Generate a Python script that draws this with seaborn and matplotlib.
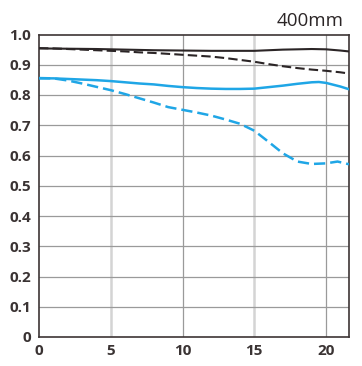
import matplotlib
matplotlib.use("Agg")
import matplotlib.pyplot as plt
import seaborn as sns
import pandas as pd

# ---- data ----
x_black_solid = [0, 2, 4, 6, 8, 10, 12, 14, 15, 16, 17, 18, 19, 20, 21, 21.6]
y_black_solid = [0.954, 0.953, 0.952, 0.950, 0.948, 0.947, 0.946, 0.946, 0.946,
                 0.948, 0.950, 0.951, 0.952, 0.951, 0.947, 0.944]

x_black_dashed = [0, 1, 2, 3, 4, 5, 6, 7, 8, 9, 10, 11, 12, 13, 14, 15, 16, 17,
                  18, 19, 20, 21, 21.6]
y_black_dashed = [0.955, 0.954, 0.952, 0.950, 0.948, 0.946, 0.944, 0.941, 0.939,
                  0.936, 0.933, 0.930, 0.927, 0.922, 0.916, 0.910, 0.902, 0.895,
                  0.889, 0.884, 0.880, 0.875, 0.871]

x_blue_solid = [0, 1, 2, 3, 4, 5, 6, 7, 8, 9, 10, 11, 12, 13, 14, 15, 16, 17, 18,
                19, 19.5, 20, 21, 21.6]
y_blue_solid = [0.855, 0.855, 0.853, 0.851, 0.849, 0.846, 0.842, 0.838, 0.835,
                0.830, 0.826, 0.823, 0.821, 0.820, 0.820, 0.821, 0.826, 0.831,
                0.837, 0.842, 0.843, 0.840, 0.828, 0.819]

x_blue_dashed = [0, 1, 2, 3, 4, 5, 6, 7, 8, 9, 10, 11, 12, 13, 14, 15, 16, 17,
                 18, 19, 20, 20.8, 21.6]
y_blue_dashed = [0.856, 0.855, 0.848, 0.838, 0.827, 0.816, 0.803, 0.789, 0.775,
                 0.760, 0.751, 0.742, 0.732, 0.719, 0.705, 0.682, 0.645, 0.607,
                 0.580, 0.572, 0.574, 0.580, 0.571]

x_ticks = [0, 5, 10, 15, 20]
y_ticks = [0, 0.1, 0.2, 0.3, 0.4, 0.5, 0.6, 0.7, 0.8, 0.9, 1.0]
y_tick_labels = ["0", "0.1", "0.2", "0.3", "0.4", "0.5", "0.6", "0.7", "0.8", "0.9", "1.0"]
title_text = "400mm"

sns.set_theme(style="white")
plt.rcParams['font.family'] = ['Open Sans', 'DejaVu Sans']

fig = plt.figure(figsize=(3.62, 3.66), dpi=100)
ax = fig.add_axes([39/362, 1 - 337/366, (349 - 39)/362, (337 - 34.5)/366])

# grid lines
for v in [5, 15]:
    ax.axvline(v, color="#d4d4d4", lw=1.8, zorder=1)
for v in [10, 20]:
    ax.axvline(v, color="#9a9a9a", lw=0.9, zorder=1)
for v in y_ticks[1:-1]:
    ax.axhline(v, color="#9a9a9a", lw=0.9, zorder=1)

black = "#2b2526"
blue = "#1fa6e6"
dash = (4.5, 2.0)

sns.lineplot(x=x_black_solid, y=y_black_solid, ax=ax, color=black, lw=1.5, zorder=3)
sns.lineplot(x=x_black_dashed, y=y_black_dashed, ax=ax, color=black, lw=1.5,
             zorder=3).lines[-1].set_dashes(dash)
sns.lineplot(x=x_blue_solid, y=y_blue_solid, ax=ax, color=blue, lw=1.8, zorder=3)
sns.lineplot(x=x_blue_dashed, y=y_blue_dashed, ax=ax, color=blue, lw=1.8,
             zorder=3).lines[-1].set_dashes(dash)

ax.set_xlim(0, 21.6)
ax.set_ylim(0, 1.0)
ax.set_xticks(x_ticks)
ax.set_xticklabels([str(t) for t in x_ticks])
ax.set_yticks(y_ticks)
ax.set_yticklabels(y_tick_labels)
ax.tick_params(axis="x", length=0, labelsize=11, colors="#3a3333", pad=5)
ax.tick_params(axis="y", length=0, labelsize=11, colors="#3a3333", pad=5.5)
for lab in ax.get_xticklabels() + ax.get_yticklabels():
    lab.set_fontweight("bold")
ax.set_xlabel("")
ax.set_ylabel("")
for s in ax.spines.values():
    s.set_visible(True)
    s.set_color("#3d3535")
    s.set_linewidth(1.2)

fig.text(310/362, 1 - 21.5/366, title_text, ha="center", va="center",
         fontsize=13.5, color="#2b2526")

fig.savefig("out.png", dpi=100)
